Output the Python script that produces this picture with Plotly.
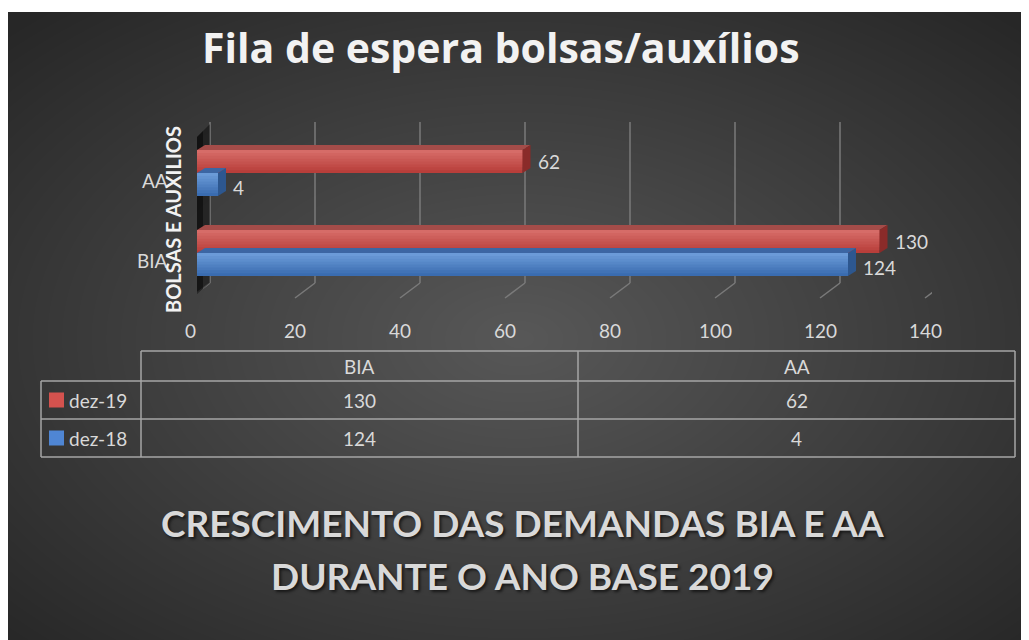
import base64, struct, zlib
import numpy as np
import plotly.graph_objects as go

# ---------------- data ----------------
categories = ["BIA", "AA"]
series_names = ["dez-19", "dez-18"]
values_dez19 = [130, 62]
values_dez18 = [124, 4]
x_ticks = [0, 20, 40, 60, 80, 100, 120, 140]
title_text = "Fila de espera bolsas/auxílios"
y_title = "BOLSAS E AUXILIOS"
footer_lines = ["CRESCIMENTO DAS DEMANDAS BIA E AA", "DURANTE O ANO BASE 2019"]

# page body has an 8px margin: work in screen pixels and convert
OFF = 8
W, H = 1021, 632
def PX(x): return (x - OFF) / W
def PY(y): return 1 - (y - OFF) / H

# ---------------- background radial gradient (png) ----------------
bw, bh = W, H - 4
yy, xx = np.mgrid[0:bh, 0:bw].astype(float)
cx, cy = bw * 0.5, bh * 0.52
d = np.sqrt(((xx - cx) / (bw / 2)) ** 2 + ((yy - cy) / (bh / 2)) ** 2) / np.sqrt(2)
d = np.clip(d, 0, 1)
g = (0x58 - (0x58 - 0x27) * d).astype(np.uint8)
raw = b"".join(b"\x00" + g[r].tobytes() for r in range(bh))
def chunk(t, data):
    c = struct.pack(">I", len(data)) + t + data
    return c + struct.pack(">I", zlib.crc32(t + data) & 0xffffffff)
png = b"\x89PNG\r\n\x1a\n" + chunk(b"IHDR", struct.pack(">IIBBBBB", bw, bh, 8, 0, 0, 0, 0)) \
      + chunk(b"IDAT", zlib.compress(raw, 9)) + chunk(b"IEND", b"")
bg_uri = "data:image/png;base64," + base64.b64encode(png).decode()

# ---------------- axes geometry (screen px) ----------------
x_left_px, x_right_px = 197, 932
x_range = [0, 140]
ppu_x = (x_right_px - x_left_px) / (x_range[1] - x_range[0])
y_top_px, y_bot_px = 100, 300
cat0_px, ppu_y = 253, 80.0
y_range = [(cat0_px - y_bot_px) / ppu_y, (cat0_px - y_top_px) / ppu_y]

bar_w = 23 / ppu_y
dx = 8 / ppu_x
dy = 5 / ppu_y

pos = list(range(len(categories)))

FONT = "Lato, 'Open Sans', sans-serif"
TXT = "#d9d9d9"

fig = go.Figure()

red = dict(bottom=(0xb8, 0x3e, 0x3a), top=(0xd6, 0x6c, 0x68), topface="#a44c49", side="#8a2b29")
blue = dict(bottom=(0x3a, 0x6c, 0xb0), top=(0x6b, 0x9b, 0xd8), topface="#3c66a3", side="#2d578f")

NB = 8
def lerp(a, b, t):
    return "rgb(%d,%d,%d)" % tuple(round(a[i] + (b[i] - a[i]) * t) for i in range(3))

def add_bar(vals, offset, col, name):
    for k in range(NB):
        frac = k / NB
        fig.add_bar(y=pos, x=vals, orientation="h", width=bar_w * (1 - frac),
                    offset=offset + bar_w * frac,
                    marker=dict(color=lerp(col["bottom"], col["top"], frac / ((NB - 1) / NB)),
                                line=dict(width=0)),
                    name=name, showlegend=False, hoverinfo="skip")
    for p, v in zip(pos, vals):
        yb = p + offset
        yt = yb + bar_w
        fig.add_scatter(x=[0, v, v + dx, dx, 0], y=[yt, yt, yt + dy, yt + dy, yt],
                        fill="toself", fillcolor=col["topface"], mode="lines",
                        line=dict(width=0, color=col["topface"]), showlegend=False, hoverinfo="skip")
        fig.add_scatter(x=[v, v, v + dx, v + dx, v], y=[yb, yt, yt + dy, yb + dy, yb],
                        fill="toself", fillcolor=col["side"], mode="lines",
                        line=dict(width=0, color=col["side"]), showlegend=False, hoverinfo="skip")

add_bar(values_dez18, -bar_w, blue, series_names[1])
add_bar(values_dez19, 0.0, red, series_names[0])

shapes = []
for v in x_ticks:
    shapes.append(dict(type="line", xref="x", xsizemode="pixel", xanchor=v, x0=13, x1=13,
                       yref="paper", y0=PY(283), y1=PY(122), line=dict(color="#7a7a7a", width=1.5),
                       layer="below"))
    shapes.append(dict(type="line", xref="x", xsizemode="pixel", xanchor=v, x0=-7, x1=13,
                       yref="paper", y0=PY(298), y1=PY(283), line=dict(color="#7a7a7a", width=1.5),
                       layer="below"))
# left wall shadow
shapes.append(dict(type="path", xref="paper", yref="paper",
                   path=f"M{PX(197)},{PY(137)} L{PX(210)},{PY(124)} L{PX(210)},{PY(283)} L{PX(197)},{PY(294)} Z",
                   fillcolor="rgba(0,0,0,0.4)", line=dict(width=0), layer="below"))
shapes.append(dict(type="path", xref="paper", yref="paper",
                   path=f"M{PX(197)},{PY(137)} L{PX(203)},{PY(131)} L{PX(203)},{PY(289)} L{PX(197)},{PY(294)} Z",
                   fillcolor="rgba(0,0,0,0.45)", line=dict(width=0), layer="below"))

# data table
tl = dict(color="#a6a6a6", width=1.5)
tx0, tx_leg, tx_mid, tx1 = 41, 141, 578, 1015
ty0, ty1, ty2, ty3 = 351, 381, 419, 457
for (xa, ya, xb, yb) in [
    (tx_leg, ty0, tx1, ty0), (tx0, ty1, tx1, ty1), (tx0, ty2, tx1, ty2), (tx0, ty3, tx1, ty3),
    (tx0, ty1, tx0, ty3), (tx_leg, ty0, tx_leg, ty3), (tx_mid, ty0, tx_mid, ty3), (tx1, ty0, tx1, ty3)]:
    shapes.append(dict(type="line", xref="paper", yref="paper", x0=PX(xa), y0=PY(ya),
                       x1=PX(xb), y1=PY(yb), line=tl))
legend_cols = ["#d4524e", "#4f86d4"]
row_centers = [(ty1 + ty2) / 2, (ty2 + ty3) / 2]
for c, rc in zip(legend_cols, row_centers):
    shapes.append(dict(type="rect", xref="paper", yref="paper", x0=PX(49), x1=PX(64),
                       y0=PY(rc - 7.5), y1=PY(rc + 7.5), fillcolor=c, line=dict(width=0)))

def A(**kw):
    kw.setdefault("showarrow", False)
    kw.setdefault("xanchor", "center")
    kw.setdefault("yanchor", "middle")
    return kw

ann = []
ann.append(A(text=title_text, x=PX(501), y=PY(47), xref="paper", yref="paper",
             font=dict(family="'Open Sans', sans-serif", size=41, color="#f2f2f2", weight="bold")))
for i, line in enumerate(footer_lines):
    ann.append(A(text=line, x=PX(522), y=PY(522 + 53 * i), xref="paper", yref="paper",
                 font=dict(family=FONT, size=37, color="#d9d9d9", weight="bold",
                           shadow="2px 2px 3px rgba(0,0,0,0.6)")))
for v in x_ticks:
    ann.append(A(text=str(v), x=v, xref="x", xshift=-7, y=PY(330), yref="paper",
                 font=dict(family=FONT, size=19, color=TXT)))
for p, c in zip(pos, categories):
    ann.append(A(text=c, x=PX(170), xanchor="right", xref="paper", y=p, yref="y", yshift=-7,
                 font=dict(family=FONT, size=19, color=TXT)))
ann.append(A(text=y_title, x=PX(173), y=PY(220), xref="paper", yref="paper", textangle=-90,
             font=dict(family=FONT, size=20, color="#f2f2f2", weight="bold")))
for p, v in zip(pos, values_dez19):
    ann.append(A(text=str(v), x=v, y=p + bar_w / 2, xref="x", yref="y", xanchor="left", xshift=13,
                 font=dict(family=FONT, size=19, color=TXT)))
for p, v in zip(pos, values_dez18):
    ann.append(A(text=str(v), x=v, y=p - bar_w / 2, xref="x", yref="y", xanchor="left", xshift=13,
                 yshift=-3, font=dict(family=FONT, size=19, color=TXT)))
col_centers = [(tx_leg + tx_mid) / 2, (tx_mid + tx1) / 2]
for cc, c in zip(col_centers, categories):
    ann.append(A(text=c, x=PX(cc), y=PY((ty0 + ty1) / 2), xref="paper", yref="paper",
                 font=dict(family=FONT, size=19, color=TXT)))
for rc, nm, vals in zip(row_centers, series_names, [values_dez19, values_dez18]):
    ann.append(A(text=nm, x=PX(67), xanchor="left", y=PY(rc), xref="paper", yref="paper",
                 font=dict(family=FONT, size=19, color=TXT)))
    for cc, v in zip(col_centers, vals):
        ann.append(A(text=str(v), x=PX(cc), y=PY(rc), xref="paper", yref="paper",
                     font=dict(family=FONT, size=19, color=TXT)))

fig.update_layout(
    width=W, height=H, margin=dict(l=0, r=0, t=0, b=0),
    paper_bgcolor="#ffffff", plot_bgcolor="rgba(0,0,0,0)",
    barmode="overlay", showlegend=False,
    xaxis=dict(domain=[PX(x_left_px), PX(x_right_px)], range=x_range, showgrid=False,
               zeroline=False, showticklabels=False, showline=False, fixedrange=True),
    yaxis=dict(domain=[PY(y_bot_px), PY(y_top_px)], range=y_range, showgrid=False,
               zeroline=False, showticklabels=False, showline=False, fixedrange=True),
    images=[dict(source=bg_uri, xref="paper", yref="paper", x=0, y=PY(12),
                 sizex=1, sizey=bh / H, xanchor="left", yanchor="top",
                 sizing="stretch", layer="below")],
    shapes=shapes, annotations=ann,
)

fig.write_html("out.html", config={"displayModeBar": False})
